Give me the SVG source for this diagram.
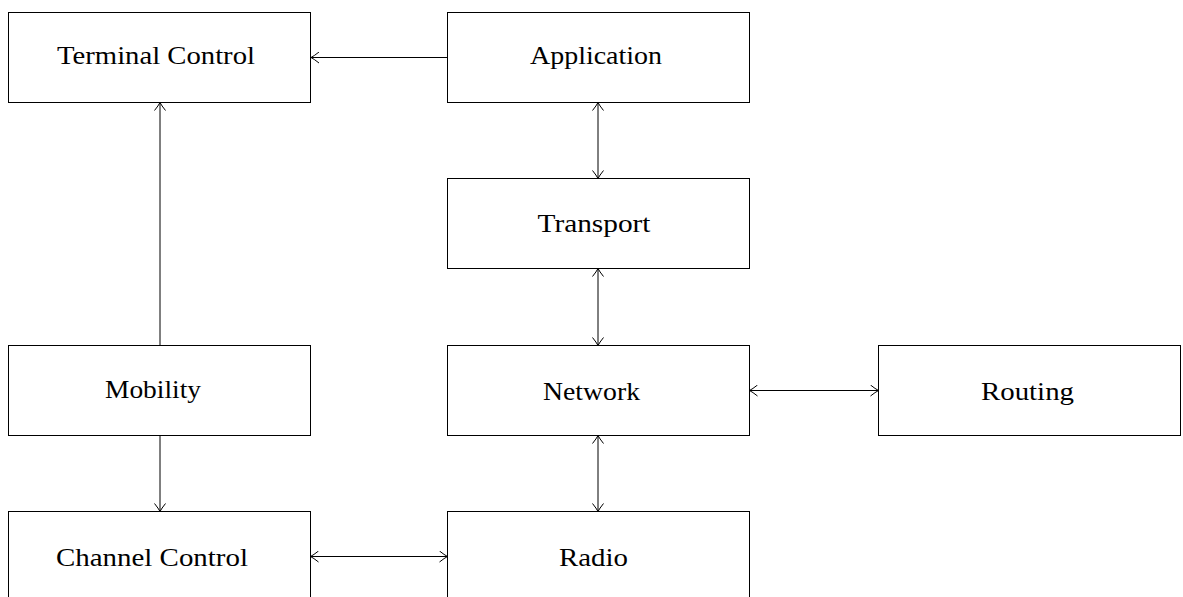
<svg xmlns="http://www.w3.org/2000/svg" width="1183" height="597" viewBox="0 0 1183 597">
<style>
.box{fill:#fff;stroke:#000;stroke-width:1}
.lbl{font-family:"Liberation Serif","Times New Roman",serif;font-size:25.5px;fill:#000;text-anchor:middle}
.c{stroke:#000;stroke-width:1;fill:none}
</style>
<defs>
<marker id="ah" viewBox="-10 -6 12 12" refX="0" refY="0" markerWidth="12" markerHeight="12" markerUnits="userSpaceOnUse" orient="auto-start-reverse">
<path d="M-8,-5.5 Q-3,-1.5 0,0 Q-3,1.5 -8,5.5" fill="none" stroke="#000" stroke-width="1"/>
</marker>
</defs>
<rect width="1183" height="597" fill="#fff"/>
<g id="connectors">
<line class="c" x1="447.5" y1="57.5" x2="311" y2="57.5" marker-end="url(#ah)"/>
<line class="c" x1="160" y1="345.5" x2="160" y2="102.5" marker-end="url(#ah)"/>
<line class="c" x1="598" y1="102.5" x2="598" y2="178.5" marker-start="url(#ah)" marker-end="url(#ah)"/>
<line class="c" x1="598" y1="268.5" x2="598" y2="345.5" marker-start="url(#ah)" marker-end="url(#ah)"/>
<line class="c" x1="749.5" y1="390.5" x2="878.5" y2="390.5" marker-start="url(#ah)" marker-end="url(#ah)"/>
<line class="c" x1="598" y1="435.5" x2="598" y2="511.5" marker-start="url(#ah)" marker-end="url(#ah)"/>
<line class="c" x1="160" y1="435.5" x2="160" y2="511.5" marker-end="url(#ah)"/>
<line class="c" x1="310.5" y1="556.5" x2="447.5" y2="556.5" marker-start="url(#ah)" marker-end="url(#ah)"/>
</g>
<g id="terminal-control"><rect class="box" x="8.5" y="12.5" width="302" height="90"/><text class="lbl" x="156" y="63.5" textLength="198" lengthAdjust="spacingAndGlyphs">Terminal Control</text></g>
<g id="application"><rect class="box" x="447.5" y="12.5" width="302" height="90"/><text class="lbl" x="596" y="63.5" textLength="132" lengthAdjust="spacingAndGlyphs">Application</text></g>
<g id="transport"><rect class="box" x="447.5" y="178.5" width="302" height="90"/><text class="lbl" x="594" y="231.5" textLength="113" lengthAdjust="spacingAndGlyphs">Transport</text></g>
<g id="mobility"><rect class="box" x="8.5" y="345.5" width="302" height="90"/><text class="lbl" x="153" y="397.5" textLength="96" lengthAdjust="spacingAndGlyphs">Mobility</text></g>
<g id="network"><rect class="box" x="447.5" y="345.5" width="302" height="90"/><text class="lbl" x="591.5" y="400" textLength="97" lengthAdjust="spacingAndGlyphs">Network</text></g>
<g id="routing"><rect class="box" x="878.5" y="345.5" width="302" height="90"/><text class="lbl" x="1027.5" y="399.5" textLength="93" lengthAdjust="spacingAndGlyphs">Routing</text></g>
<g id="channel-control"><rect class="box" x="8.5" y="511.5" width="302" height="90"/><text class="lbl" x="152" y="565.5" textLength="192" lengthAdjust="spacingAndGlyphs">Channel Control</text></g>
<g id="radio"><rect class="box" x="447.5" y="511.5" width="302" height="90"/><text class="lbl" x="593.5" y="565.5" textLength="69" lengthAdjust="spacingAndGlyphs">Radio</text></g>
</svg>
